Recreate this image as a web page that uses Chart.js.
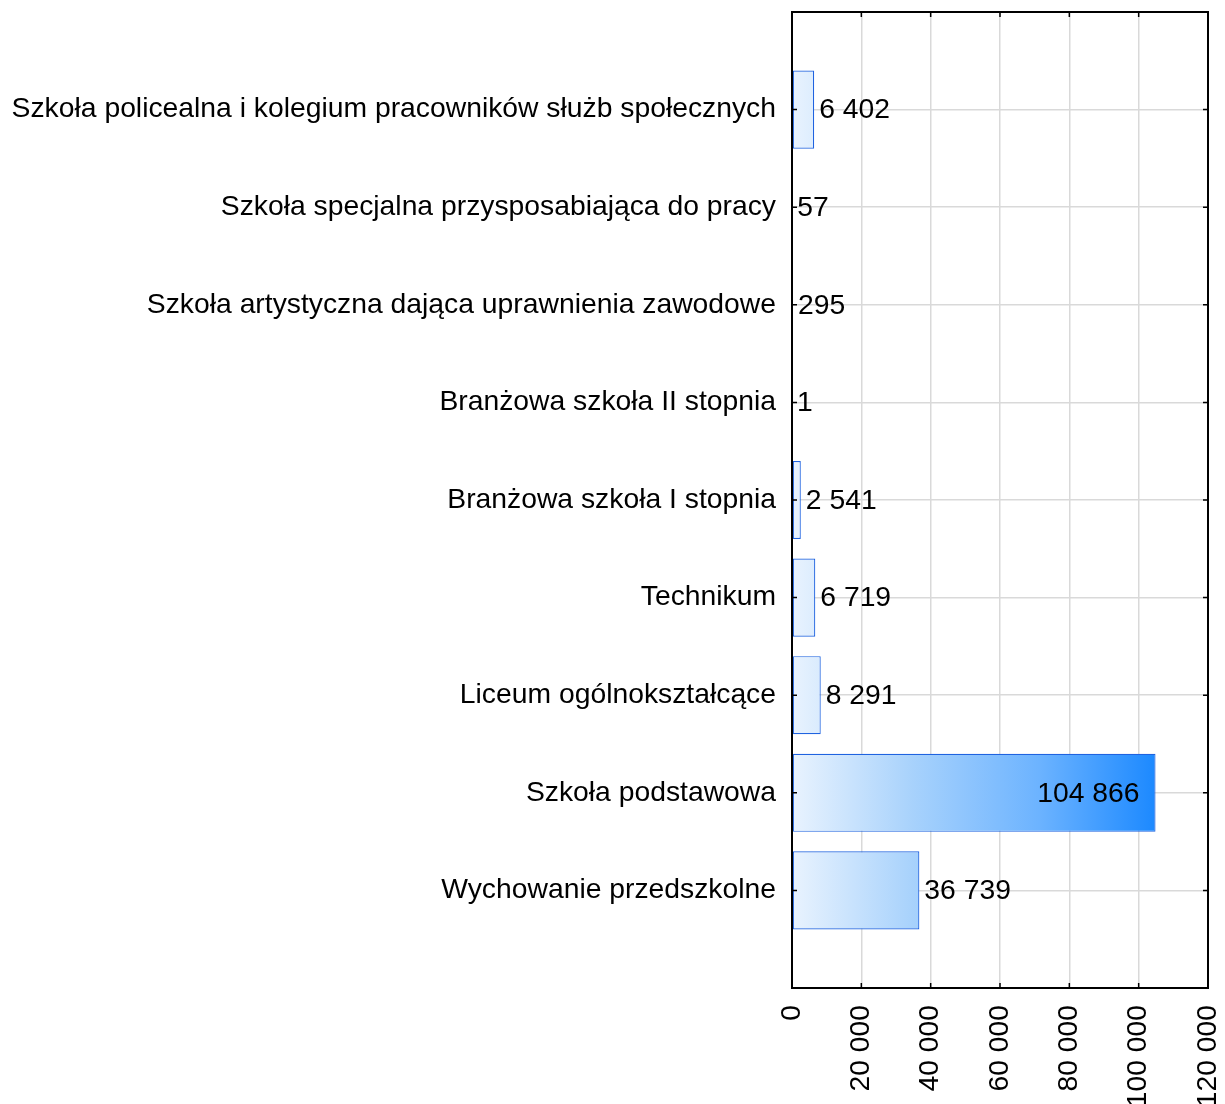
<!DOCTYPE html>
<html>
<head>
<meta charset="utf-8">
<script src="https://cdn.jsdelivr.net/npm/chart.js@4"></script>
<style>
html,body{margin:0;padding:0;background:#fff;}
#wrap{width:1225px;height:1104px;position:relative;}
</style>
</head>
<body>
<div id="wrap"><canvas id="c" width="1225" height="1104"></canvas></div>
<script>
const categories = [
  "Szkoła policealna i kolegium pracowników służb społecznych",
  "Szkoła specjalna przysposabiająca do pracy",
  "Szkoła artystyczna dająca uprawnienia zawodowe",
  "Branżowa szkoła II stopnia",
  "Branżowa szkoła I stopnia",
  "Technikum",
  "Liceum ogólnokształcące",
  "Szkoła podstawowa",
  "Wychowanie przedszkolne"
];
const values = [6402, 57, 295, 1, 2541, 6719, 8291, 104866, 36739];
const xTicks = [0, 20000, 40000, 60000, 80000, 100000, 120000];

const FONT = "'Liberation Sans', Arial, sans-serif";
const FS = 28.3;

function fmt(v){ return String(v).replace(/\B(?=(\d{3})+(?!\d))/g, ' '); }

// padded category axis (empty slot at each end)
const labels = [''].concat(categories, ['']);
const data = [null].concat(values, [null]);
const maxVal = Math.max.apply(null, values);

function grad(ctx){
  const chart = ctx.chart;
  if (!chart.chartArea) return '#cfe4fc';
  const xs = chart.scales.x;
  const g = chart.ctx.createLinearGradient(xs.getPixelForValue(0), 0, xs.getPixelForValue(maxVal), 0);
  g.addColorStop(0, '#e9f3fe');
  g.addColorStop(0.33, '#a8d2fc');
  g.addColorStop(0.68, '#6cb3ff');
  g.addColorStop(1, '#1c89ff');
  return g;
}

function noPad(s){ s.paddingLeft = 0; s.paddingRight = 0; s.paddingTop = 0; s.paddingBottom = 0; }

const framePlugin = {
  id: 'frame',
  afterDraw(chart){
    const {ctx, chartArea: a} = chart;
    const xs = chart.scales.x, ys = chart.scales.y;
    ctx.save();
    ctx.strokeStyle = '#000';
    ctx.lineWidth = 2;
    ctx.strokeRect(a.left, a.top, a.right - a.left, a.bottom - a.top);
    ctx.lineWidth = 1.5;
    ctx.beginPath();
    xTicks.forEach(t => {
      const x = xs.getPixelForValue(t);
      ctx.moveTo(x, a.top); ctx.lineTo(x, a.top + 5);
      ctx.moveTo(x, a.bottom); ctx.lineTo(x, a.bottom - 5);
    });
    for (let i = 1; i <= categories.length; i++){
      const y = ys.getPixelForValue(i);
      ctx.moveTo(a.left, y); ctx.lineTo(a.left + 5, y);
      ctx.moveTo(a.right, y); ctx.lineTo(a.right - 5, y);
    }
    ctx.stroke();
    // value labels
    const meta = chart.getDatasetMeta(0);
    ctx.fillStyle = '#000';
    ctx.font = FS + 'px ' + FONT;
    ctx.textBaseline = 'middle';
    meta.data.forEach((el, i) => {
      const v = data[i];
      if (v === null) return;
      const txt = fmt(v);
      const w = ctx.measureText(txt).width;
      if (el.x + 6 + w > a.right - 4) {
        ctx.textAlign = 'right';
        ctx.fillText(txt, el.x - 16, el.y + 1);
      } else {
        ctx.textAlign = 'left';
        ctx.fillText(txt, el.x + 5, el.y + 1);
      }
    });
    ctx.restore();
  }
};

new Chart(document.getElementById('c'), {
  type: 'bar',
  data: {
    labels: labels,
    datasets: [{
      data: data,
      backgroundColor: grad,
      borderColor: '#1f63e0',
      borderWidth: 1.2,
      borderSkipped: false,
      barPercentage: 0.8,
      categoryPercentage: 1
    }]
  },
  options: {
    indexAxis: 'y',
    responsive: false,
    animation: false,
    devicePixelRatio: 1,
    layout: { padding: { top: 12, right: 17, left: 0, bottom: 0 } },
    plugins: { legend: { display: false }, tooltip: { enabled: false } },
    scales: {
      x: {
        type: 'linear',
        min: 0, max: 120000,
        afterBuildTicks: s => { s.ticks = xTicks.map(v => ({ value: v })); },
        afterFit: s => { s.height = 116; noPad(s); },
        grid: { color: '#d9d9d9', lineWidth: 1.5, drawTicks: false },
        border: { display: false },
        ticks: {
          font: { family: FONT, size: FS },
          color: '#000',
          minRotation: 90, maxRotation: 90,
          padding: 17,
          autoSkip: false,
          callback: v => fmt(v)
        }
      },
      y: {
        type: 'category',
        offset: false,
        afterFit: s => { s.width = 792; noPad(s); },
        grid: { color: '#d9d9d9', lineWidth: 1.5, drawTicks: false, offset: false },
        border: { display: false },
        ticks: {
          font: { family: FONT, size: FS },
          color: '#000',
          padding: 16,
          autoSkip: false
        }
      }
    }
  },
  plugins: [framePlugin]
});
</script>
</body>
</html>
